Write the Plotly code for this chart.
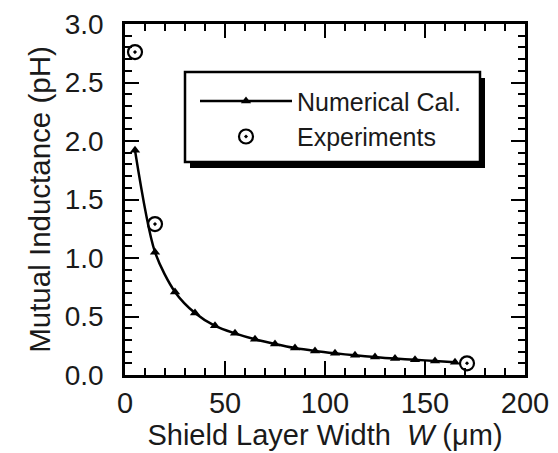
import plotly.graph_objects as go

# Data
calc_w = [5, 15, 25, 35, 45, 55, 65, 75, 85, 95, 105, 115, 125, 135, 145, 155, 165]
calc_m = [1.92, 1.05, 0.71, 0.53, 0.42, 0.356, 0.305, 0.265, 0.23, 0.205, 0.185, 0.168, 0.153, 0.14, 0.13, 0.12, 0.11]
exp_w = [5, 15, 171]
exp_m = [2.76, 1.29, 0.10]

x_ticks = [0, 50, 100, 150, 200]
y_ticks = [0.0, 0.5, 1.0, 1.5, 2.0, 2.5, 3.0]

FONT = "Liberation Sans, Arial, Helvetica, sans-serif"
TXT = "#1a1a1a"

fig = go.Figure()
fig.add_trace(go.Scatter(
    x=calc_w, y=calc_m, mode="lines+markers", name="Numerical Cal.",
    line=dict(color="black", width=2.5, shape="spline", smoothing=0.8),
    marker=dict(symbol="triangle-up", size=9, color="black"),
    legendgroup="a",
))
fig.add_trace(go.Scatter(
    x=exp_w, y=exp_m, mode="markers", name="Experiments",
    marker=dict(symbol="circle-open-dot", size=14, color="black",
                line=dict(color="black", width=2.2)),
    legendgroup="b",
))
# empty trace that carries the mirrored (top/right) tick axes
fig.add_trace(go.Scatter(x=[], y=[], xaxis="x2", yaxis="y2", showlegend=False, hoverinfo="skip"))

tick_common = dict(
    ticks="inside", ticklen=14, tickwidth=2, tickcolor="black",
    showgrid=False, zeroline=False,
)
minor_x = dict(dtick=10, ticks="inside", ticklen=7, tickwidth=1.8, tickcolor="black", showgrid=False)
minor_y = dict(dtick=0.1, ticks="inside", ticklen=7, tickwidth=1.8, tickcolor="black", showgrid=False)

fig.update_layout(
    xaxis=dict(
        range=[0, 200], tickvals=x_ticks, ticktext=[str(v) for v in x_ticks],
        showline=True, linecolor="black", linewidth=2.5, mirror=True,
        minor=minor_x, automargin=False, ticklabelstandoff=0,
        tickfont=dict(family=FONT, size=29, color=TXT),
        title=dict(text="Shield Layer Width  <i>W</i> (μm)",
                   font=dict(family=FONT, size=29, color=TXT), standoff=2),
        **tick_common,
    ),
    yaxis=dict(
        range=[0, 3.0], tickvals=y_ticks, ticktext=[f"{v:.1f}" for v in y_ticks],
        showline=True, linecolor="black", linewidth=2.5, mirror=True,
        minor=minor_y, automargin=False, ticklabelstandoff=13,
        tickfont=dict(family=FONT, size=28, color=TXT),
        title=dict(text="Mutual Inductance (pH)",
                   font=dict(family=FONT, size=29.5, color=TXT), standoff=6),
        **tick_common,
    ),
    xaxis2=dict(
        range=[0, 200], overlaying="x", anchor="y2", side="top",
        tickvals=x_ticks, showticklabels=False, showline=False,
        minor=minor_x, automargin=False, **tick_common,
    ),
    yaxis2=dict(
        range=[0, 3.0], overlaying="y", anchor="x2", side="right",
        tickvals=y_ticks, showticklabels=False, showline=False,
        minor=minor_y, automargin=False, **tick_common,
    ),
)

# Legend box with drop shadow
fig.add_shape(type="rect", xref="paper", yref="paper", x0=0.1625, x1=0.90, y0=0.590, y1=0.846,
              fillcolor="black", line=dict(width=0), layer="below")
fig.add_shape(type="rect", xref="paper", yref="paper", x0=0.15, x1=0.8875, y0=0.607, y1=0.863,
              fillcolor="white", line=dict(color="black", width=2.5), layer="below")

fig.update_layout(
    width=558, height=453,
    margin=dict(l=125, r=33, t=24, b=78, autoexpand=False),
    paper_bgcolor="white", plot_bgcolor="white",
    font=dict(family=FONT, color=TXT),
    legend=dict(
        x=0.175, y=0.73, xanchor="left", yanchor="middle",
        bgcolor="rgba(0,0,0,0)", borderwidth=0,
        font=dict(family=FONT, size=25, color=TXT),
        itemwidth=92, tracegroupgap=0, traceorder="grouped",
    ),
)

fig.write_html("out.html", config={"displayModeBar": False},
               post_script="document.body.style.margin='0px';")
